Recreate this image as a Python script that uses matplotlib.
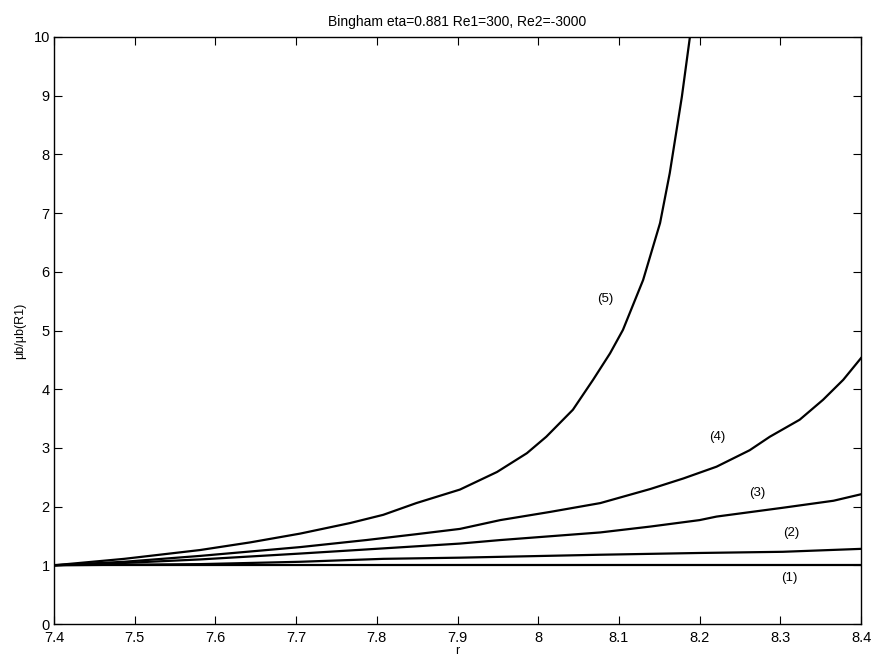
import matplotlib
matplotlib.use("Agg")
import matplotlib.pyplot as plt

# --- data ---
r1 = [7.4, 8.4]
v1 = [1.0, 1.0]

r2 = [7.4, 7.487, 7.581, 7.705, 7.808, 7.903, 8.077, 8.2, 8.303, 8.4]
v2 = [1.0, 1.01, 1.02, 1.06, 1.11, 1.13, 1.18, 1.21, 1.23, 1.28]

r3 = [7.4, 7.487, 7.581, 7.705, 7.787, 7.903, 7.953, 8.077, 8.139, 8.2, 8.221,
      8.303, 8.366, 8.4]
v3 = [1.0, 1.04, 1.10, 1.20, 1.27, 1.37, 1.43, 1.56, 1.66, 1.77, 1.83,
      1.98, 2.10, 2.21]

r4 = [7.4, 7.487, 7.581, 7.705, 7.787, 7.849, 7.903, 7.953, 8.015, 8.077, 8.139,
      8.180, 8.221, 8.262, 8.287, 8.324, 8.353, 8.378, 8.4]
v4 = [1.0, 1.06, 1.16, 1.31, 1.43, 1.53, 1.62, 1.77, 1.91, 2.06, 2.30,
      2.48, 2.68, 2.96, 3.19, 3.48, 3.82, 4.16, 4.53]

r5 = [7.4, 7.487, 7.581, 7.643, 7.705, 7.767, 7.808, 7.849, 7.903, 7.949, 7.986,
      8.010, 8.043, 8.068, 8.089, 8.105, 8.130, 8.151, 8.163, 8.178, 8.188]
v5 = [1.0, 1.11, 1.26, 1.39, 1.54, 1.72, 1.86, 2.06, 2.29, 2.59, 2.91,
      3.19, 3.65, 4.16, 4.61, 5.01, 5.86, 6.83, 7.68, 8.98, 10.0]

labels = ["(1)", "(2)", "(3)", "(4)", "(5)"]
label_r = [8.311, 8.314, 8.271, 8.222, 8.083]
label_v = [0.78, 1.55, 2.23, 3.19, 5.54]

xticks = [7.4, 7.5, 7.6, 7.7, 7.8, 7.9, 8.0, 8.1, 8.2, 8.3, 8.4]
xticklabels = ["7.4", "7.5", "7.6", "7.7", "7.8", "7.9", "8", "8.1", "8.2", "8.3", "8.4"]
yticks = list(range(0, 11))

plt.rcParams['font.family'] = ['Liberation Sans', 'DejaVu Sans']

fig = plt.figure(figsize=(8.74, 6.59), dpi=100)
ax = fig.add_axes([54 / 874, 35 / 659, 807 / 874, 587 / 659])

for r, v in [(r1, v1), (r2, v2), (r3, v3), (r4, v4), (r5, v5)]:
    ax.plot(r, v, color='black', linewidth=1.6, clip_on=True)

for txt, x, y in zip(labels, label_r, label_v):
    ax.text(x, y, txt, fontsize=9.5, ha='center', va='center')

ax.set_xlim(7.4, 8.4)
ax.set_ylim(0, 10)
ax.set_xticks(xticks)
ax.set_xticklabels(xticklabels)
ax.set_yticks(yticks)
ax.tick_params(direction='in', length=6, width=0.8, top=True, right=True,
               labelsize=10.5)
ax.tick_params(axis='x', pad=5)
ax.tick_params(axis='y', pad=3)
for s in ax.spines.values():
    s.set_linewidth(1.0)

ax.set_title("Bingham eta=0.881 Re1=300, Re2=-3000", fontsize=10, pad=8)
ax.set_xlabel("r", fontsize=9, labelpad=0)
ax.set_ylabel("\u03bcb/\u03bcb(R1)", fontsize=9, labelpad=5)

fig.savefig("out.png", dpi=100)
